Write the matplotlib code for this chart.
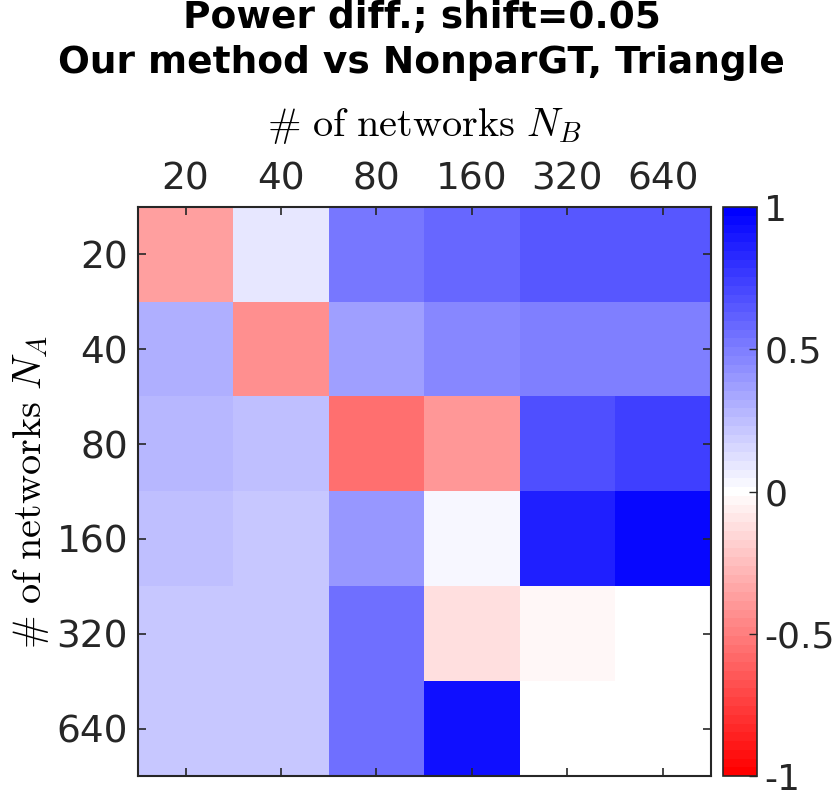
import numpy as np
import matplotlib
matplotlib.use('Agg')
import matplotlib.pyplot as plt
from matplotlib.colors import LinearSegmentedColormap

# network counts for both axes
n_b = ['20', '40', '80', '160', '320', '640']
n_a = ['20', '40', '80', '160', '320', '640']

# power difference (rows: N_A, columns: N_B)
row_20 = [-0.36, 0.10, 0.53, 0.59, 0.64, 0.64]
row_40 = [0.30, -0.43, 0.38, 0.47, 0.50, 0.50]
row_80 = [0.27, 0.25, -0.56, -0.39, 0.68, 0.73]
row_160 = [0.25, 0.23, 0.40, 0.03, 0.87, 0.95]
row_320 = [0.23, 0.23, 0.54, -0.11, -0.02, 0.0]
row_640 = [0.23, 0.23, 0.56, 0.91, 0.0, 0.0]

power_diff = np.array([row_20, row_40, row_80, row_160, row_320, row_640])

plt.rcParams['mathtext.fontset'] = 'cm'
ink = '#262626'

cmap = LinearSegmentedColormap.from_list('rwb', ['#ff0000', '#ffffff', '#0000ff'], N=65)

fig = plt.figure(figsize=(8.35, 7.93), dpi=100)
ax = fig.add_axes([0.165, 0.0214, 0.686, 0.7175])
cax = fig.add_axes([0.866, 0.0214, 0.041, 0.7175])

im = ax.imshow(power_diff, cmap=cmap, vmin=-1, vmax=1, aspect='auto',
               interpolation='nearest')

ax.set_xticks(np.arange(len(n_b)))
ax.set_xticklabels(n_b)
ax.set_yticks(np.arange(len(n_a)))
ax.set_yticklabels(n_a)
ax.xaxis.set_ticks_position('both')
ax.yaxis.set_ticks_position('both')
ax.tick_params(axis='x', labeltop=True, labelbottom=False)
ax.tick_params(direction='in', length=6, width=1.2, color=ink,
               labelsize=27, labelcolor=ink, pad=7)
ax.xaxis.set_label_position('top')
ax.set_xlabel(r'$\#\ \mathrm{of\ networks}\ N_B$', fontsize=29, labelpad=18)
ax.set_ylabel(r'$\#\ \mathrm{of\ networks}\ N_A$', fontsize=29, labelpad=4)
for s in ax.spines.values():
    s.set_color(ink)
    s.set_linewidth(1.5)

cb = fig.colorbar(im, cax=cax, ticks=[-1, -0.5, 0, 0.5, 1])
cb.ax.set_yticklabels(['-1', '-0.5', '0', '0.5', '1'])
cb.ax.tick_params(direction='in', length=6, width=1.0, color=ink,
                  labelsize=26, labelcolor=ink, pad=5)
cb.outline.set_edgecolor(ink)
cb.outline.set_linewidth(1.2)

fig.suptitle('Power diff.; shift=0.05\nOur method vs NonparGT, Triangle',
             fontsize=27, fontweight='bold', y=1.0, x=0.505, linespacing=1.32)

fig.savefig('out.png', dpi=100)
